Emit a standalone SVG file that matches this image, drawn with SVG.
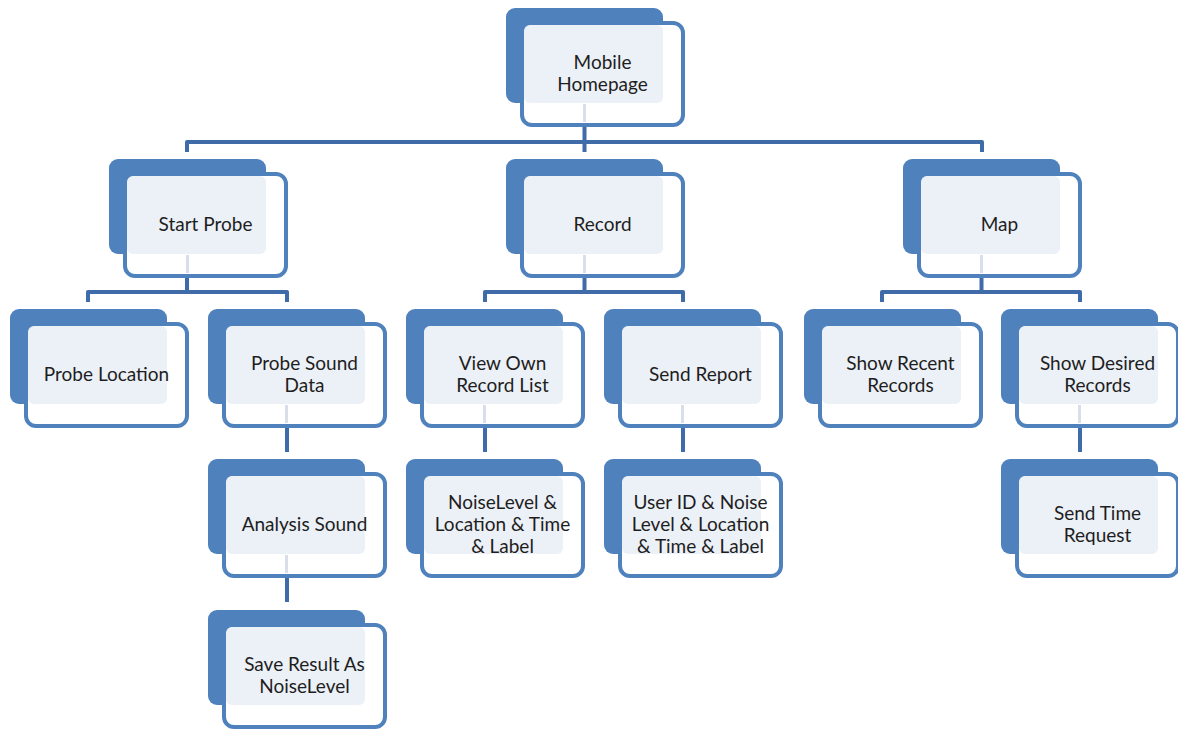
<svg xmlns="http://www.w3.org/2000/svg" xmlns:xlink="http://www.w3.org/1999/xlink" width="1178" height="729" viewBox="0 0 1178 729">
  <style>
    .back { fill: #4F81BD; }
    .front { fill: #FFFFFF; stroke: #4F81BD; stroke-width: 4; }
    .face { fill: #ECF0F7; }
    .stem { stroke: #D8DEEA; stroke-width: 3; }
    .link { fill: none; stroke: #3F6CA8; stroke-width: 4; stroke-linejoin: round; }
    text { font-family: Lato, "Open Sans", "Liberation Sans", sans-serif; font-size: 19px; fill: #1E1E1E; text-anchor: middle; dominant-baseline: central; }
  </style>
  <defs>
    <!-- shared node frame: filled back card, outlined front card, light text face -->
    <g id="frame">
      <rect class="back" x="0" y="0" width="157" height="95" rx="9"/>
      <rect class="front" x="16" y="15" width="161" height="102" rx="10"/>
      <rect class="face" x="18" y="17" width="139" height="78" rx="6"/>
    </g>
    <!-- faint trace of the outgoing link under a parent card -->
    <line id="stem" class="stem" x1="78.5" y1="96" x2="78.5" y2="114"/>
  </defs>
  <rect width="1178" height="729" fill="#FFFFFF"/>

  <g id="connectors">
    <path class="link" d="M584.5,120 V152 M187,152 V142 H982 V152"/>
    <path class="link" d="M187,270 V292 M88,302 V292 H287 V302"/>
    <path class="link" d="M584.5,270 V292 M485,302 V292 H683 V302"/>
    <path class="link" d="M981.5,270 V292 M882,302 V292 H1080 V302"/>
    <path class="link" d="M287,420 V452 M485,420 V452 M683,420 V452 M1080,420 V452"/>
    <path class="link" d="M287,570 V602"/>
  </g>

  <g id="mobile-homepage" transform="translate(506,8)">
    <use xlink:href="#frame"/>
    <use xlink:href="#stem"/>
    <text x="96.5" y="53.5">Mobile</text>
    <text x="96.5" y="75.5">Homepage</text>
  </g>

  <g id="start-probe" transform="translate(109,159)">
    <use xlink:href="#frame"/>
    <use xlink:href="#stem"/>
    <text x="96.5" y="64.5">Start Probe</text>
  </g>
  <g id="record" transform="translate(506,159)">
    <use xlink:href="#frame"/>
    <use xlink:href="#stem"/>
    <text x="96.5" y="64.5">Record</text>
  </g>
  <g id="map" transform="translate(903,159)">
    <use xlink:href="#frame"/>
    <use xlink:href="#stem"/>
    <text x="96.5" y="64.5">Map</text>
  </g>

  <g id="probe-location" transform="translate(10,309)">
    <use xlink:href="#frame"/>
    <text x="96.5" y="64.5">Probe Location</text>
  </g>
  <g id="probe-sound-data" transform="translate(208,309)">
    <use xlink:href="#frame"/>
    <use xlink:href="#stem"/>
    <text x="96.5" y="53.5">Probe Sound</text>
    <text x="96.5" y="75.5">Data</text>
  </g>
  <g id="view-own-record-list" transform="translate(406,309)">
    <use xlink:href="#frame"/>
    <use xlink:href="#stem"/>
    <text x="96.5" y="53.5">View Own</text>
    <text x="96.5" y="75.5">Record List</text>
  </g>
  <g id="send-report" transform="translate(604,309)">
    <use xlink:href="#frame"/>
    <use xlink:href="#stem"/>
    <text x="96.5" y="64.5">Send Report</text>
  </g>
  <g id="show-recent-records" transform="translate(804,309)">
    <use xlink:href="#frame"/>
    <text x="96.5" y="53.5">Show Recent</text>
    <text x="96.5" y="75.5">Records</text>
  </g>
  <g id="show-desired-records" transform="translate(1001,309)">
    <use xlink:href="#frame"/>
    <use xlink:href="#stem"/>
    <text x="96.5" y="53.5">Show Desired</text>
    <text x="96.5" y="75.5">Records</text>
  </g>

  <g id="analysis-sound" transform="translate(208,459)">
    <use xlink:href="#frame"/>
    <use xlink:href="#stem"/>
    <text x="96.5" y="64.5">Analysis Sound</text>
  </g>
  <g id="record-fields" transform="translate(406,459)">
    <use xlink:href="#frame"/>
    <text x="96.5" y="42.5">NoiseLevel &amp;</text>
    <text x="96.5" y="64.5">Location &amp; Time</text>
    <text x="96.5" y="86.5">&amp; Label</text>
  </g>
  <g id="report-fields" transform="translate(604,459)">
    <use xlink:href="#frame"/>
    <text x="96.5" y="42.5">User ID &amp; Noise</text>
    <text x="96.5" y="64.5">Level &amp; Location</text>
    <text x="96.5" y="86.5">&amp; Time &amp; Label</text>
  </g>
  <g id="send-time-request" transform="translate(1001,459)">
    <use xlink:href="#frame"/>
    <text x="96.5" y="53.5">Send Time</text>
    <text x="96.5" y="75.5">Request</text>
  </g>

  <g id="save-result" transform="translate(208,610)">
    <use xlink:href="#frame"/>
    <text x="96.5" y="53.5">Save Result As</text>
    <text x="96.5" y="75.5">NoiseLevel</text>
  </g>
</svg>
